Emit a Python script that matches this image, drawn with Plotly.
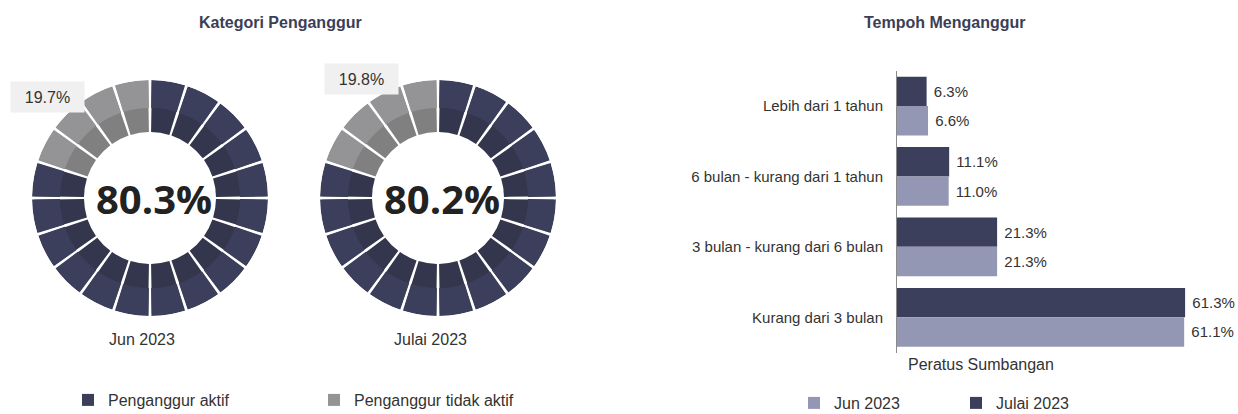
import plotly.graph_objects as go

W, H = 1238, 414

# --- data -------------------------------------------------------------
months = ["Jun 2023", "Julai 2023"]
aktif = [80.3, 80.2]            # Penganggur aktif (%)
tidak_aktif = [19.7, 19.8]      # Penganggur tidak aktif (%)

tempoh = [
    "Lebih dari 1 tahun",
    "6 bulan - kurang dari 1 tahun",
    "3 bulan - kurang dari 6 bulan",
    "Kurang dari 3 bulan",
]
tempoh_jun = [6.6, 11.0, 21.3, 61.1]
tempoh_julai = [6.3, 11.1, 21.3, 61.3]

# --- style ------------------------------------------------------------
C_ACT_OUT, C_ACT_IN = "#3b3f5c", "#33364c"
C_INA_OUT, C_INA_IN = "#949497", "#808081"
C_JULAI, C_JUN = "#3b3f5c", "#9497b3"
TXT = "#333333"
TITLE = "#3b3e56"
FONT = "Liberation Sans, Arial, sans-serif"

N_SEG = 20
SEG = 360 / N_SEG
R_HOLE, R_MID, R_OUT = 66, 90, 118
GAP_OUT, GAP_IN = 1.4, 1.85          # degrees of white between segments
centres = [(150, 198), (438, 198)]


def px(x):
    return x / W


def py(y):
    return 1 - y / H


fig = go.Figure()

for k, (cx, cy) in enumerate(centres):
    sub = "polar" if k == 0 else "polar2"
    n_ina = round(tidak_aktif[k] / 100 * N_SEG)
    n_act = N_SEG - n_ina
    th_act = [SEG / 2 + SEG * i for i in range(n_act)]
    th_ina = [SEG / 2 + SEG * i for i in range(n_act, N_SEG)]
    for name, th, c_out, c_in in [
        ("Penganggur aktif", th_act, C_ACT_OUT, C_ACT_IN),
        ("Penganggur tidak aktif", th_ina, C_INA_OUT, C_INA_IN),
    ]:
        # darker inner band (runs under the outer band so no seam shows)
        fig.add_trace(go.Barpolar(
            theta=th, r=[R_OUT - 2 - R_HOLE] * len(th), base=[R_HOLE] * len(th),
            width=[SEG - GAP_IN] * len(th), marker=dict(color=c_in, line=dict(width=0)),
            subplot=sub, showlegend=False, hoverinfo="skip", name=name,
        ))
        fig.add_trace(go.Barpolar(
            theta=th, r=[R_OUT - R_MID] * len(th), base=[R_MID] * len(th),
            width=[SEG - GAP_OUT] * len(th), marker=dict(color=c_out, line=dict(width=0)),
            subplot=sub, showlegend=(k == 0), legend="legend", name=name,
        ))

    # centre value
    fig.add_annotation(
        x=px(cx + 4), y=py(cy), xref="paper", yref="paper",
        text=f"<b>{aktif[k]:.1f}%</b>", showarrow=False,
        font=dict(family="Open Sans, Noto Sans, sans-serif", size=40, color="#222222"),
        xanchor="center", yanchor="middle",
    )
    # month caption
    fig.add_annotation(
        x=px(cx - 8), y=py(339), xref="paper", yref="paper", text=months[k],
        showarrow=False, font=dict(family=FONT, size=16, color=TXT),
        xanchor="center", yanchor="middle",
    )

    polar_cfg = dict(
        domain=dict(x=[px(cx - R_OUT), px(cx + R_OUT)], y=[py(cy + R_OUT), py(cy - R_OUT)]),
        bgcolor="rgba(0,0,0,0)",
        radialaxis=dict(range=[0, R_OUT], visible=False),
        angularaxis=dict(rotation=90, direction="clockwise", visible=False),
    )
    fig.update_layout(**{sub: polar_cfg})

# share labels of the inactive part
boxes = [(47, 97), (361, 79)]
for k, (bx, by) in enumerate(boxes):
    fig.add_annotation(
        x=px(bx), y=py(by), xref="paper", yref="paper",
        text=f"{tidak_aktif[k]:.1f}%", showarrow=False,
        font=dict(family=FONT, size=16, color=TXT),
        bgcolor="#f0f0f0", width=73, height=30, borderpad=0,
        xanchor="center", yanchor="middle",
    )

# --- duration bars ----------------------------------------------------
for name, vals, col, rank in [
    ("Julai 2023", tempoh_julai, C_JULAI, 2),
    ("Jun 2023", tempoh_jun, C_JUN, 1),
]:
    fig.add_trace(go.Bar(
        y=tempoh, x=vals, orientation="h", name=name,
        marker=dict(color=col, line=dict(width=0)),
        texttemplate="\u00a0%{x:.1f}%", textposition="outside",
        textfont=dict(family=FONT, size=15, color=TXT), cliponaxis=False,
        xaxis="x", yaxis="y", legend="legend2", legendrank=rank,
    ))

fig.update_layout(
    width=W, height=H, margin=dict(l=0, r=0, t=0, b=0, autoexpand=False),
    paper_bgcolor="white", plot_bgcolor="white",
    barmode="group", bargap=0.166, bargroupgap=0,
    font=dict(family=FONT, color=TXT),
    xaxis=dict(domain=[px(897), px(1226)], range=[0, 70], visible=False),
    yaxis=dict(
        domain=[py(352.5), py(70.8)], autorange="reversed",
        showline=True, linecolor="#8a8a8a", linewidth=1, showgrid=False,
        ticks="", ticklabelstandoff=10, tickfont=dict(family=FONT, size=15, color=TXT),
    ),
    legend=dict(
        orientation="h", x=px(68), y=py(400), xanchor="left", yanchor="middle",
        font=dict(family=FONT, size=16, color=TXT), itemwidth=30, entrywidth=201,
        bgcolor="rgba(0,0,0,0)", itemclick=False, itemdoubleclick=False,
    ),
    legend2=dict(
        orientation="h", x=px(794), y=py(403), xanchor="left", yanchor="middle",
        font=dict(family=FONT, size=16, color=TXT), itemwidth=30, entrywidth=117,
        bgcolor="rgba(0,0,0,0)", itemclick=False, itemdoubleclick=False,
    ),
    showlegend=True,
)

# titles and axis caption
fig.add_annotation(x=px(280), y=py(22), xref="paper", yref="paper",
                   text="<b>Kategori Penganggur</b>", showarrow=False,
                   font=dict(family=FONT, size=16, color=TITLE), xanchor="center", yanchor="middle")
fig.add_annotation(x=px(944), y=py(22), xref="paper", yref="paper",
                   text="<b>Tempoh Menganggur</b>", showarrow=False,
                   font=dict(family=FONT, size=16, color=TITLE), xanchor="center", yanchor="middle")
fig.add_annotation(x=px(906), y=py(364), xref="paper", yref="paper",
                   text="Peratus Sumbangan", showarrow=False,
                   font=dict(family=FONT, size=16, color=TXT), xanchor="left", yanchor="middle")

fig.write_html("out.html")
